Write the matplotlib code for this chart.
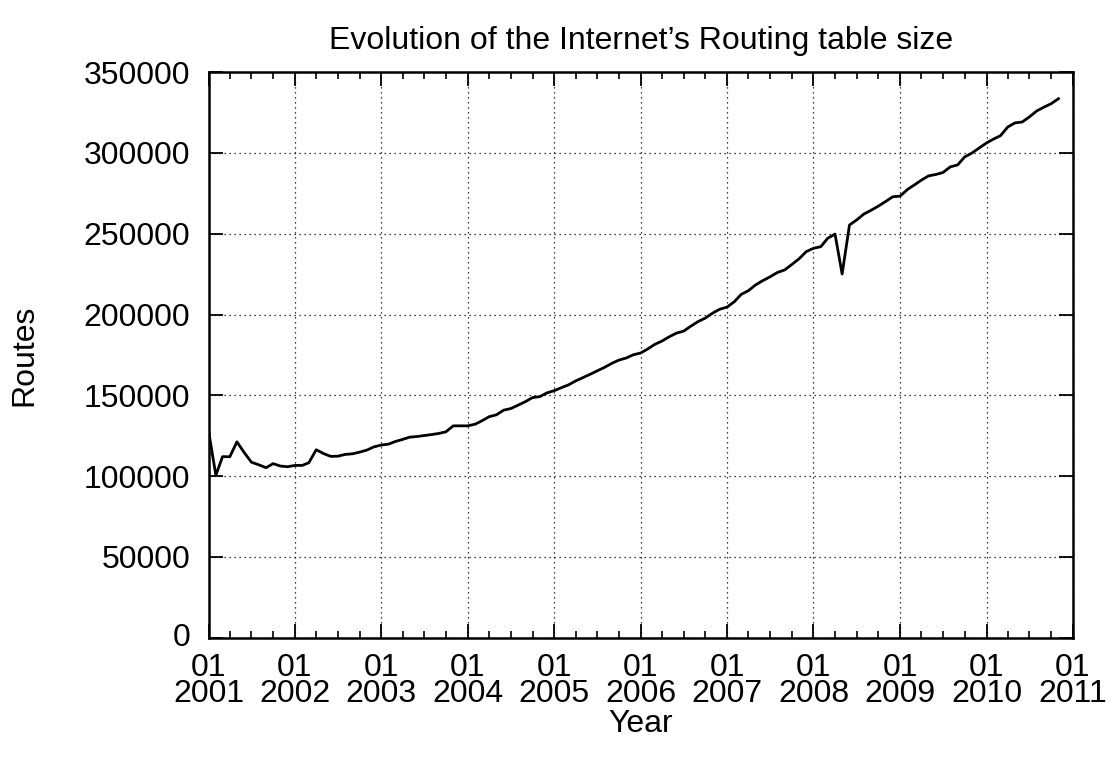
import numpy as np
import pandas as pd
import matplotlib
matplotlib.use("Agg")
import matplotlib.pyplot as plt
import matplotlib.dates as mdates
import matplotlib.transforms as mtransforms

plt.rcParams['font.family'] = ['Liberation Sans', 'DejaVu Sans']

# monthly BGP table size, one entry per month starting 2001-01
start_month = "2001-01"
routes = [
    128000, 100500, 112000, 112000, 121200, 114500, 108600, 107000, 105200, 107700, 106200, 105800,
    106600, 106600, 108300, 116300, 114000, 112200, 112300, 113400, 113800, 114800, 116100, 118100,
    119200, 119800, 121400, 122700, 124100, 124500, 125100, 125700, 126400, 127400, 131100, 131100,
    131100, 132100, 134200, 136800, 137900, 140800, 141800, 143900, 146100, 148600, 149200, 151500,
    152900, 154800, 156400, 158900, 160900, 163000, 165100, 167300, 169800, 171800, 173100, 175100,
    176200, 178800, 181500, 183600, 186200, 188500, 189700, 192800, 195700, 197800, 200900, 203300,
    204600, 208000, 212400, 214800, 218300, 221000, 223300, 226000, 227600, 230900, 234500, 238900,
    241000, 242000, 247200, 249800, 225100, 255400, 258500, 262200, 264600, 267100, 270000, 272900,
    273300, 277400, 280100, 283200, 285800, 286700, 287900, 291400, 292600, 297600, 300000, 303100,
    306200, 308700, 310700, 316100, 318600, 319200, 322300, 326000, 328400, 330500, 333600,
]
months = pd.date_range(start_month, periods=len(routes), freq="MS")

fig = plt.figure(figsize=(11.11, 7.6), dpi=100)
ax = fig.add_axes([0.1877, 0.161, 0.778, 0.744])

ax.plot(months, routes, color="black", linewidth=2)

ax.set_xlim(pd.Timestamp("2001-01-01"), pd.Timestamp("2011-01-01"))
ax.set_ylim(0, 350000)
ax.set_yticks(np.arange(0, 350001, 50000))

ax.xaxis.set_major_locator(mdates.YearLocator())
ax.xaxis.set_major_formatter(mdates.DateFormatter("%m\n%Y"))
ax.xaxis.set_minor_locator(mdates.MonthLocator(bymonth=[4, 7, 10]))

ax.grid(True, which="major", linestyle=(0, (1, 3)), color="black", linewidth=0.9)
ax.tick_params(axis="both", which="major", direction="in", length=10, width=1.3,
               top=True, right=True, labelsize=23, pad=11)
ax.tick_params(axis="y", which="major", pad=13)
ax.tick_params(axis="x", which="minor", direction="in", length=5, width=1.2, top=True)
for sp in ax.spines.values():
    sp.set_linewidth(1.8)

for lbl in ax.get_xticklabels():
    lbl.set_linespacing(0.85)

# lift the "0" label a touch so it clears the first date label
zero_lbl = ax.get_yticklabels()[0]
zero_lbl.set_transform(zero_lbl.get_transform() +
                       mtransforms.ScaledTranslation(0, 3 / 100, fig.dpi_scale_trans))

ax.set_title("Evolution of the Internet\u2019s Routing table size", fontsize=23, pad=17)
ax.set_xlabel("Year", fontsize=23, labelpad=0)
ax.set_ylabel("Routes", fontsize=23, labelpad=32)

fig.savefig("out.png", dpi=100)
